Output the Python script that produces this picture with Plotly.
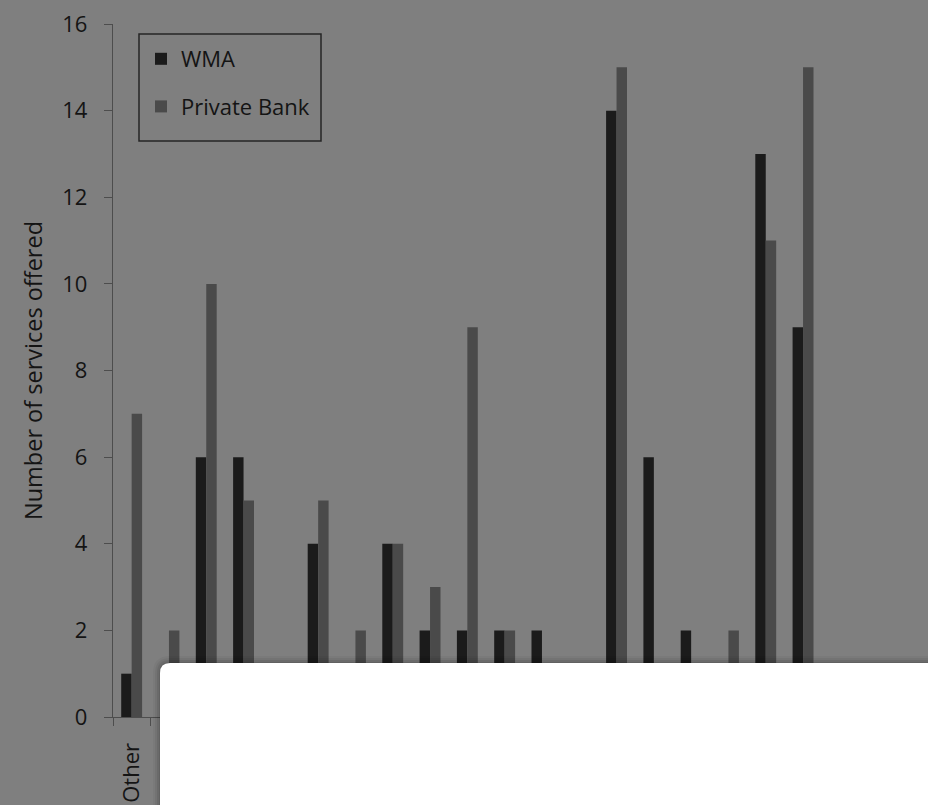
import plotly.graph_objects as go

# Services offered per category, by provider type
positions = list(range(19))
category_labels = ["Other"] + [""] * 18
wma = [1, 0, 6, 6, 0, 4, 0, 4, 2, 2, 2, 2, 0, 14, 6, 2, 0, 13, 9]
private_bank = [7, 2, 10, 5, 0, 5, 2, 4, 3, 9, 2, 0, 0, 15, 0, 0, 2, 11, 15]
y_ticks = [0, 2, 4, 6, 8, 10, 12, 14, 16]

W, H = 928, 805
ML, MR, MT, MB = 113, 0, 24, 88
PW, PH = W - ML - MR, H - MT - MB

FONT = "Open Sans"
TXT = "#141414"
BG = "#7f7f7f"
FS = 22


def px_x(x):
    return (x - ML) / PW


def px_y(y):
    return (H - MB - y) / PH


fig = go.Figure()
fig.add_trace(go.Bar(x=positions, y=wma, name="WMA", marker_color="#1b1b1b",
                     marker_line_width=0, legendgroup="a"))
fig.add_trace(go.Bar(x=positions, y=private_bank, name="Private Bank",
                     marker_color="#4a4a4a", marker_line_width=0, legendgroup="b"))


def rounded_panel(x0, y0, x1, y1, r):
    return (f"M {px_x(x0)},{px_y(y1)} L {px_x(x0)},{px_y(y0 + r)} "
            f"Q {px_x(x0)},{px_y(y0)} {px_x(x0 + r)},{px_y(y0)} "
            f"L {px_x(x1)},{px_y(y0)} L {px_x(x1)},{px_y(y1)} Z")


shapes = []
# legend frame
shapes.append(dict(type="rect", xref="paper", yref="paper", layer="above",
                   x0=px_x(139), x1=px_x(321), y0=px_y(141), y1=px_y(34),
                   line=dict(color="#262626", width=1.5), fillcolor="rgba(0,0,0,0)"))
# soft shadow around the overlay panel
for grow, op in [(7, 0.04), (5, 0.05), (3, 0.07), (1, 0.08)]:
    shapes.append(dict(type="path", xref="paper", yref="paper", layer="above",
                       path=rounded_panel(160 - grow, 663 - grow, W + 10, H + 10, 10 + grow),
                       fillcolor=f"rgba(0,0,0,{op})", line_width=0))
shapes.append(dict(type="path", xref="paper", yref="paper", layer="above",
                   path=rounded_panel(160, 663, W + 10, H + 10, 10),
                   fillcolor="#ffffff", line_width=0))

fig.update_layout(
    width=W, height=H,
    margin=dict(l=ML, r=MR, t=MT, b=MB),
    paper_bgcolor=BG, plot_bgcolor=BG,
    barmode="group", bargap=0.44, bargroupgap=0,
    font=dict(family=FONT, color=TXT, size=FS),
    showlegend=True,
    legend=dict(x=px_x(141), y=px_y(38), xanchor="left", yanchor="top",
                bgcolor="rgba(0,0,0,0)", borderwidth=0,
                font=dict(family=FONT, size=FS, color=TXT),
                tracegroupgap=16, itemwidth=30),
    xaxis=dict(range=[-0.5, 21.35], tickmode="array", tickvals=positions,
               ticktext=category_labels, tickangle=-90, ticks="",
               showline=True, linecolor="#4d4d4d", linewidth=1.3,
               showgrid=False, zeroline=False, ticklabelstandoff=16,
               tickfont=dict(size=FS, color=TXT),
               minor=dict(tickmode="array", tickvals=[i - 0.5 for i in range(23)],
                          ticks="outside", ticklen=8, tickcolor="#4d4d4d", tickwidth=1.3)),
    yaxis=dict(range=[0, 16], tickvals=y_ticks, ticks="outside", ticklen=8,
               tickcolor="#4d4d4d", tickwidth=1.3, showline=True, linecolor="#4d4d4d",
               linewidth=1.3, showgrid=False, zeroline=False, ticklabelstandoff=12,
               tickfont=dict(size=FS, color=TXT),
               title=dict(text="Number of services offered", standoff=13,
                          font=dict(size=23.5, color=TXT))),
    shapes=shapes,
)

fig.write_html("out.html")
